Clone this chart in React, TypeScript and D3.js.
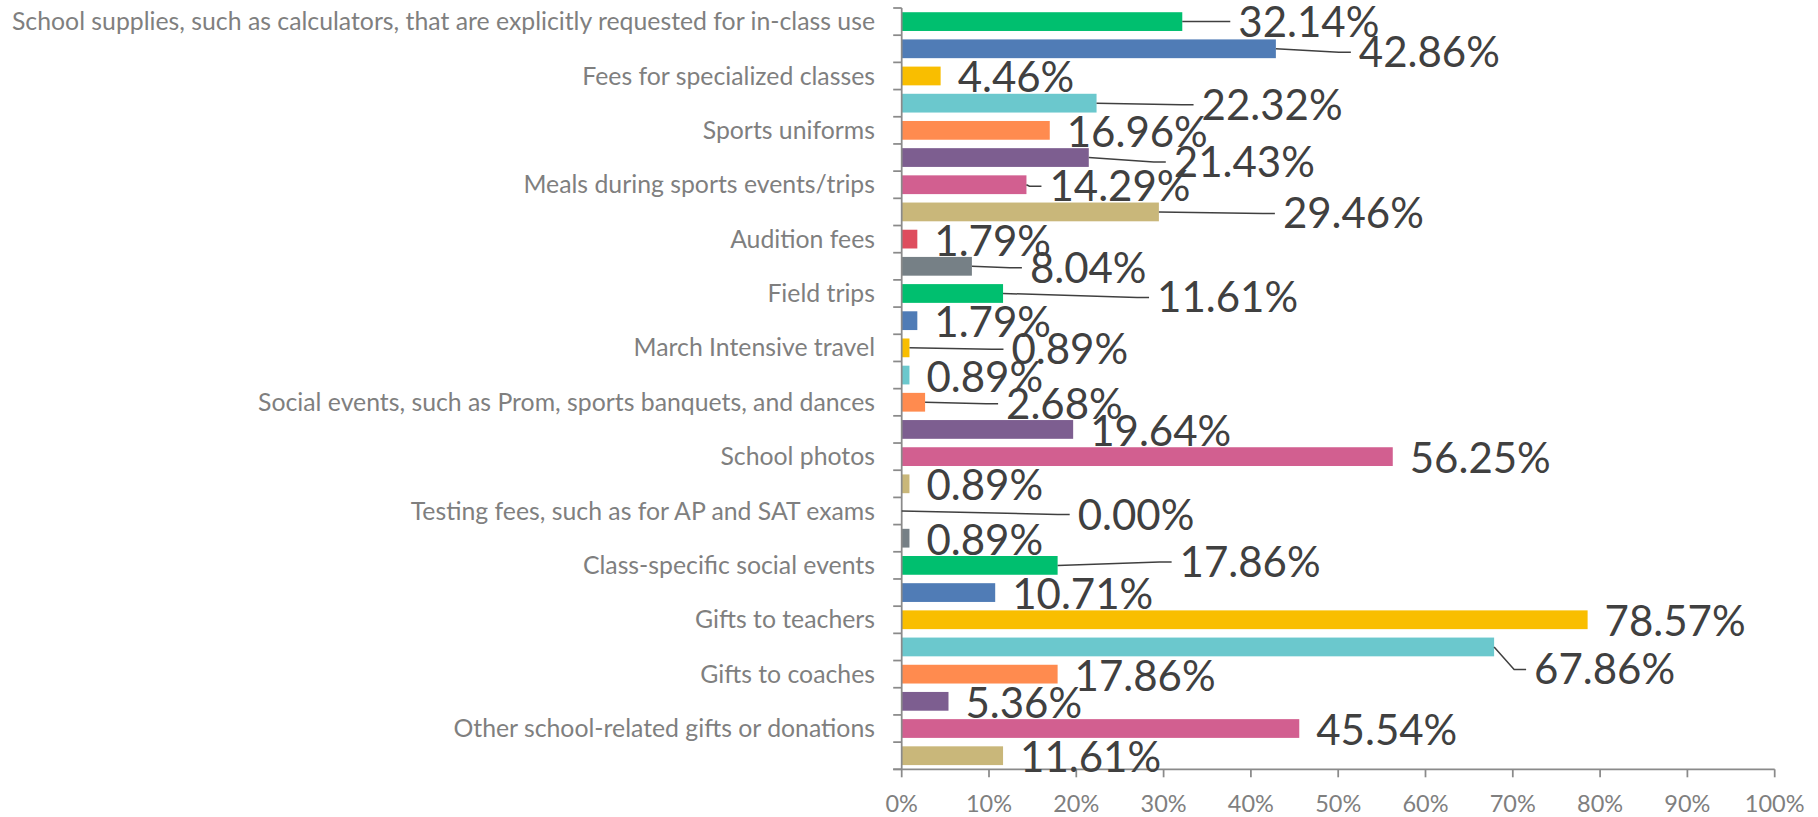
import React from "react";
import * as d3 from "d3";

const categoryLabels = [
  "School supplies, such as calculators, that are explicitly requested for in-class use",
  "Fees for specialized classes",
  "Sports uniforms",
  "Meals during sports events/trips",
  "Audition fees",
  "Field trips",
  "March Intensive travel",
  "Social events, such as Prom, sports banquets, and dances",
  "School photos",
  "Testing fees, such as for AP and SAT exams",
  "Class-specific social events",
  "Gifts to teachers",
  "Gifts to coaches",
  "Other school-related gifts or donations",
];

// 28 bars, two per category row (top to bottom)
const values = [
  32.14, 42.86, 4.46, 22.32, 16.96, 21.43, 14.29, 29.46, 1.79, 8.04,
  11.61, 1.79, 0.89, 0.89, 2.68, 19.64, 56.25, 0.89, 0.0, 0.89,
  17.86, 10.71, 78.57, 67.86, 17.86, 5.36, 45.54, 11.61,
];

const xTicks = [0, 10, 20, 30, 40, 50, 60, 70, 80, 90, 100];

const palette = [
  "#00BF6F", "#507CB6", "#F9BE00", "#6BC8CD", "#FF8B4F",
  "#7D5E90", "#D25F90", "#C9B77A", "#DE4D5E", "#768086",
];

// manual label displacements (layout), relative to default outside-end position
const labelDx = [39, 66, 0, 88, 0, 68, 6, 107, 0, 41, 137, 0, 85, 0, 64, 0, 0, 0, 159, 0, 105, 0, 0, 23, 0, 0, 0, 0];
const labelDy = [-1.5, 2, 0, 0, 0, 3, 0, 0, 0, 0, 2.5, 0, 0, 0, 0, 0, 0, 0, 2, 0, -5, 0, 0, 21, 0, 0, 0, 0];

const W = 1818;
const H = 817;
const FONT = "Lato, 'Open Sans', sans-serif";

export default function App() {
  const x = d3.scaleLinear().domain([0, 100]).range([901.7, 1774.7]);
  const idx = d3.range(values.length);
  const pad = 0.31;
  const y = d3
    .scaleBand<number>()
    .domain(idx)
    .range([8, 769.3])
    .paddingInner(pad)
    .paddingOuter(pad / 2);
  const step = y.step();
  const top = 8;
  const bottom = 769.3;
  const x0 = x(0);
  const axisColor = "#8a8a8a";
  const labelColor = "#7f7f7f";

  const boundaries = d3.range(values.length + 1).map((i) => top + i * step);

  return (
    <svg
      width={W}
      height={H}
      style={{ position: "absolute", left: 0, top: 0, background: "#fff" }}
      fontFamily={FONT}
    >
      <rect width={W} height={H} fill="#fff" />
      {/* bars */}
      {values.map((v, i) => (
        <rect
          key={"b" + i}
          x={x0}
          y={y(i)}
          width={Math.max(0, x(v) - x0)}
          height={y.bandwidth()}
          fill={palette[i % palette.length]}
        />
      ))}
      {/* axes */}
      <line x1={x0} x2={x0} y1={top} y2={bottom} stroke={axisColor} strokeWidth={1.75} />
      {boundaries.map((b, i) => (
        <line key={"yt" + i} x1={x0 - 8.5} x2={x0} y1={b} y2={b} stroke={axisColor} strokeWidth={1.75} />
      ))}
      <line x1={x0 - 8.5} x2={x(100)} y1={bottom} y2={bottom} stroke={axisColor} strokeWidth={1.75} />
      {xTicks.map((t) => (
        <g key={"xt" + t}>
          <line x1={x(t)} x2={x(t)} y1={bottom} y2={bottom + 8} stroke={axisColor} strokeWidth={1.75} />
          <text x={x(t)} y={811.5} textAnchor="middle" fontSize={23.5} fill={labelColor}>
            {t + "%"}
          </text>
        </g>
      ))}
      {/* category labels, one per pair of bars */}
      {categoryLabels.map((c, k) => (
        <text
          key={"c" + k}
          x={875}
          y={(y(2 * k) as number) + y.bandwidth() / 2 + 8.6}
          textAnchor="end"
          fontSize={24.8}
          fill={labelColor}
        >
          {c}
        </text>
      ))}
      {/* leader lines */}
      {values.map((v, i) => {
        const dx = labelDx[i];
        const dy = labelDy[i];
        if (Math.abs(dx) < 3 && Math.abs(dy) < 3) return null;
        const bx = x(v);
        const by = (y(i) as number) + y.bandwidth() / 2;
        const tx = bx + 17 + dx;
        const ty = by + 1.5 + dy;
        const end = tx - 8;
        const bend = Math.max(bx, end - 12);
        const p = d3.path();
        p.moveTo(bx, by);
        p.lineTo(bend, ty);
        p.lineTo(end, ty);
        return (
          <path key={"l" + i} d={p.toString()} fill="none" stroke="#404040" strokeWidth={1.5} />
        );
      })}
      {/* data labels */}
      {values.map((v, i) => {
        const bx = x(v);
        const by = (y(i) as number) + y.bandwidth() / 2;
        return (
          <text
            key={"d" + i}
            x={bx + 17 + labelDx[i]}
            y={by + 16.5 + labelDy[i]}
            fontSize={42}
            fill="#404040"
          >
            {v.toFixed(2) + "%"}
          </text>
        );
      })}
    </svg>
  );
}
